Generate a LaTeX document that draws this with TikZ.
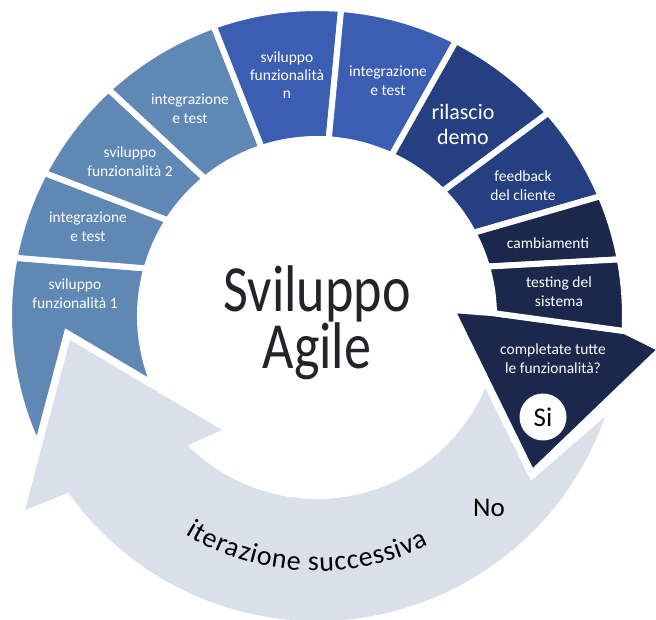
\documentclass[tikz,border=0pt]{standalone}
\usepackage{fontspec}
\setmainfont{Carlito}
\newfontfamily\titlefont[FakeStretch=0.82]{Carlito}
\usetikzlibrary{decorations.text}
\definecolor{steel}{HTML}{6088B5}
\definecolor{royal}{HTML}{3B5EB3}
\definecolor{deepblue}{HTML}{253F80}
\definecolor{navy}{HTML}{1C284B}
\definecolor{mist}{HTML}{D9E0E9}
\definecolor{ink}{HTML}{222428}
\newcommand{\ringseg}[5]{%
  \filldraw[seg, fill=#5] (#1:308) arc[start angle=#1, end angle=#3, radius=308]
    -- (#4:177) arc[start angle=#4, end angle=#2, radius=177] -- cycle;}

\begin{document}
\begin{tikzpicture}[x=1pt, y=1pt,
    seg/.style={draw=white, line width=6pt},
    lbl/.style={text=white, align=center, inner sep=0pt, font=\fontsize{15.5}{19}\selectfont}]
    \useasboundingbox (0,0) rectangle (656,619);
    \begin{scope}[shift={(317,303)}]
        \fill[mist] (-23.2:183) -- (214,-165) -- (-19.3:305)
            arc[start angle=-19.3, end angle=-144.6, radius=305]
            -- (-292,-194) -- (-247,-24) -- (-95,-114) -- (-135:183)
            arc[start angle=-135, end angle=-23.2, radius=183] -- cycle;
        \filldraw[seg, fill=steel] (169.1:308) arc[start angle=169.1, end angle=204.8, radius=308]
            -- (-250,-17) -- (202.7:177) arc[start angle=202.7, end angle=164.4, radius=177] -- cycle;
        \ringseg{169.1}{164.4}{152.3}{147.3}{steel}
        \ringseg{152.3}{147.3}{132.6}{129.2}{steel}
        \ringseg{132.6}{129.2}{109.6}{108.2}{steel}
        \ringseg{109.6}{108.2}{85.5}{86.2}{royal}
        \ringseg{85.5}{86.2}{63.2}{65.1}{royal}
        \ringseg{63.2}{65.1}{41.3}{44.8}{deepblue}
        \ringseg{41.3}{44.8}{22.9}{28.0}{deepblue}
        \ringseg{22.9}{28.0}{10.6}{16.2}{navy}
        \filldraw[seg, fill=navy] (135,6) -- (0.9:177) -- (-2.8:308) -- (344,-33) -- (215,-157) -- cycle;
        \ringseg{10.6}{16.2}{-2.8}{0.9}{navy}

        \node[lbl] (f1) at (-242,22) {sviluppo\\funzionalità 1};
        \node[lbl] (t1) at (-229,89) {integrazione\\e test};
        \node[lbl] (f2) at (-187,154) {sviluppo\\funzionalità 2};
        \node[lbl] (t2) at (-127,207) {integrazione\\e test};
        \node[lbl, font=\fontsize{15.5}{18}\selectfont] (fn) at (-30,241) {sviluppo\\funzionalità\\n};
        \node[lbl] (t3) at (71,235) {integrazione\\e test};
        \node[lbl, font=\fontsize{22}{25}\selectfont] (demo) at (146,192) {rilascio\\demo};
        \node[lbl] (fb) at (206,130) {feedback\\del cliente};
        \node[lbl] (camb) at (231,73) {cambiamenti};
        \node[lbl] (sys) at (242,24) {testing del\\sistema};
        \node[lbl] (done) at (236,-43) {completate tutte\\le funzionalità?};
        \node[circle, fill=white, minimum size=47pt, inner sep=0pt, text=black,
            font=\fontsize{27}{27}\selectfont] (si) at (226,-101) {Si};
        \node[text=black, font=\fontsize{27}{27}\selectfont] (no) at (172,-192) {No};
        \node[text=ink, align=center, font=\titlefont\fontsize{66}{56}\selectfont] (title) at (0,-7) {Sviluppo\\Agile};
        \path[decorate, decoration={text effects along path,
            text={iterazione successiva}, text align=center,
            text effects/.cd, text along path,
            character widths={inner xsep=0.4pt, font=\fontsize{28}{28}\selectfont},
            characters={inner xsep=0pt, text=black, font=\fontsize{28}{28}\selectfont}}]
            (-127:255) arc[start angle=-127, end angle=-58, radius=255];
    \end{scope}
\end{tikzpicture}
\end{document}
